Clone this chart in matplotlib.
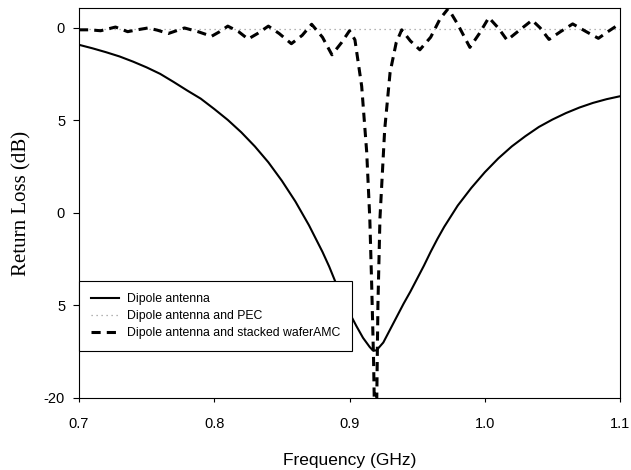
# Return loss of the dipole antenna with and without the ground planes
import matplotlib
matplotlib.use('Agg')
import matplotlib.pyplot as plt

# Dipole antenna on its own
freq_dipole = [0.700, 0.710, 0.720, 0.730, 0.740, 0.750, 0.760, 0.770, 0.780,
               0.790, 0.800, 0.810, 0.820, 0.830, 0.840, 0.850, 0.860, 0.870,
               0.880, 0.885, 0.890, 0.895, 0.900, 0.905, 0.910, 0.915, 0.9176,
               0.920, 0.925, 0.930, 0.935, 0.940, 0.945, 0.950, 0.955, 0.960,
               0.965, 0.970, 0.980, 0.990, 1.000, 1.010, 1.020, 1.030, 1.040,
               1.050, 1.060, 1.070, 1.080, 1.090, 1.100]
rl_dipole = [-0.91, -1.10, -1.31, -1.54, -1.82, -2.13, -2.48, -2.92, -3.38,
             -3.82, -4.38, -4.97, -5.64, -6.40, -7.26, -8.26, -9.38, -10.66,
             -12.10, -12.90, -13.80, -14.70, -15.40, -16.10, -16.75, -17.25, -17.45,
             -17.42, -17.00, -16.30, -15.60, -14.90, -14.25, -13.55, -12.85, -12.10,
             -11.40, -10.75, -9.60, -8.65, -7.80, -7.05, -6.40, -5.85, -5.35,
             -4.95, -4.60, -4.30, -4.05, -3.85, -3.69]

# Dipole antenna over the PEC plane
freq_pec = [0.70, 0.80, 0.90, 1.00, 1.10]
rl_pec = [-0.05, -0.05, -0.05, -0.05, -0.05]

# Dipole antenna over the stacked wafer AMC
freq_amc = [0.700, 0.708, 0.716, 0.727, 0.736, 0.743, 0.751, 0.758, 0.766,
            0.772, 0.778, 0.788, 0.798, 0.804, 0.810, 0.818, 0.825, 0.832,
            0.840, 0.848, 0.857, 0.865, 0.872, 0.880, 0.887, 0.894, 0.900,
            0.904, 0.909, 0.9127, 0.915, 0.9164, 0.9178, 0.9185, 0.920, 0.921,
            0.9225, 0.926, 0.930, 0.9345, 0.9386, 0.945, 0.952, 0.960, 0.967,
            0.973, 0.980, 0.989, 0.996, 1.003, 1.010, 1.0165, 1.026, 1.035,
            1.041, 1.0475, 1.056, 1.065, 1.075, 1.084, 1.091, 1.097, 1.100]
rl_amc = [-0.10, -0.10, -0.15, 0.05, -0.20, -0.10, 0.00, -0.12, -0.30,
          -0.15, 0.00, -0.20, -0.45, -0.20, 0.10, -0.20, -0.60, -0.30,
          0.10, -0.30, -0.85, -0.40, 0.20, -0.50, -1.45, -0.80, -0.15,
          -0.64, -3.15, -6.70, -10.30, -13.90, -18.00, -21.00, -21.00, -15.00,
          -10.30, -5.50, -2.40, -0.80, -0.10, -0.70, -1.18, -0.50, 0.50,
          1.05, 0.20, -1.05, -0.30, 0.56, 0.00, -0.66, -0.10, 0.42,
          0.00, -0.62, -0.20, 0.22, -0.20, -0.56, -0.20, 0.09, -0.10]

x_ticks = [0.7, 0.8, 0.9, 1.0, 1.1]
x_tick_labels = ['0.7', '0.8', '0.9', '1.0', '1.1']
y_ticks = [-20, -15, -10, -5, 0]
y_tick_labels = ['-20', '5', '0', '5', '0']


def plot_return_loss():
    """ Plots the return loss of the three antenna set-ups"""
    fig = plt.figure(figsize=(6.31, 4.70), dpi=100)
    ax = fig.add_axes([0.1252, 0.1532, 0.8574, 0.8298])

    ax.plot(freq_dipole, rl_dipole, color='black', linewidth=1.5,
            label='Dipole antenna')
    ax.plot(freq_pec, rl_pec, color='#9a9a9a', linewidth=0.9,
            linestyle=(0, (1, 3)), label='Dipole antenna and PEC')
    ax.plot(freq_amc, rl_amc, color='black', linewidth=2.2,
            linestyle=(0, (3, 2)), label='Dipole antenna and stacked waferAMC')

    ax.set_xlim(0.7, 1.1)
    ax.set_ylim(-20, 1.08)
    ax.set_xticks(x_ticks)
    ax.set_xticklabels(x_tick_labels)
    ax.set_yticks(y_ticks)
    ax.set_yticklabels(y_tick_labels)
    ax.tick_params(axis='both', direction='out', width=0.8,
                   labelsize=10.5, top=False, right=False)
    ax.tick_params(axis='x', length=3, pad=11)
    ax.tick_params(axis='y', length=4, pad=6)
    for lab in ax.get_xticklabels() + ax.get_yticklabels():
        lab.set_family('Liberation Sans')
    for sp in ax.spines.values():
        sp.set_linewidth(0.8)

    ax.set_xlabel('Frequency (GHz)', fontsize=12.5, family='Liberation Sans')
    ax.xaxis.set_label_coords(0.5, -0.142)
    ax.set_ylabel('Return Loss (dB)', fontsize=15, family='Liberation Serif',
                  va='center')
    ax.yaxis.set_label_coords(-0.105, 0.5)

    leg = ax.legend(loc='lower left', bbox_to_anchor=(0, 0.12),
                    borderaxespad=0, fancybox=False, framealpha=1,
                    edgecolor='black', handlelength=2.3, handletextpad=0.6,
                    labelspacing=0.4, borderpad=1.0,
                    prop={'family': 'Liberation Sans', 'size': 8.8})
    leg.get_frame().set_linewidth(0.8)

    fig.savefig('out.png', dpi=100)


if __name__ == "__main__":
    plot_return_loss()
